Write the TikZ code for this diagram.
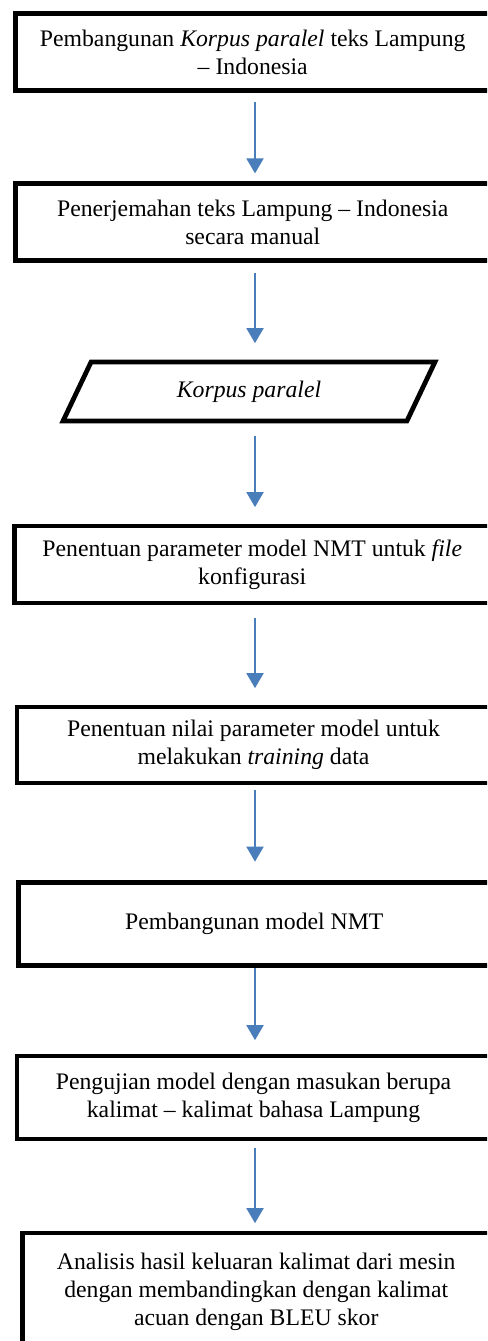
\documentclass[tikz,border=0pt]{standalone}
\usepackage{fontspec}
\setmainfont{Liberation Serif}
\usetikzlibrary{arrows.meta,shapes.geometric}

\definecolor{biruPanah}{RGB}{74,126,187}

\begin{document}
\begin{tikzpicture}[x=0.02cm, y=-0.02cm,
    every node/.style={font=\fontsize{13.5}{16}\selectfont},
    proses/.style={draw, line width=2.7pt, fill=white, align=center, inner sep=0pt},
    data/.style={trapezium, trapezium left angle=37.5, trapezium right angle=142.5,
      trapezium stretches body, draw, line width=2.7pt, minimum width=7.44cm,
      minimum height=1.18cm, inner sep=0pt},
    panah/.style={draw=biruPanah, line width=1.1pt, -{Triangle[length=0.3cm,width=0.34cm]}}]
  % Batas gambar
  \useasboundingbox (0,0) rectangle (487,1341);
  \clip (0,0) rectangle (487,1341);
  \coordinate (sumbu) at (255,0);

  % Kotak proses
  \node[proses, minimum width=9.49cm, minimum height=1.55cm] (bangunKorpus) at (252.75,52)
    {Pembangunan \textit{Korpus paralel} teks Lampung\\ -- Indonesia};
  \node[proses, minimum width=9.49cm, minimum height=1.55cm] (terjemah) at (252.75,222)
    {Penerjemahan teks Lampung -- Indonesia\\ secara manual};

  % Data
  \node[data] (korpus) at (249,391.5) {\textit{Korpus paralel}};

  \node[proses, minimum width=9.51cm, minimum height=1.54cm] (parameter) at (252.25,564.5)
    {Penentuan parameter model NMT untuk \textit{file}\\ konfigurasi};
  \node[proses, minimum width=9.46cm, minimum height=1.52cm] (nilai) at (253.5,745)
    {Penentuan nilai parameter model untuk\\ melakukan \textit{training} data};
  \node[proses, minimum width=9.43cm, minimum height=1.66cm] (model) at (254.25,924)
    {Pembangunan model NMT};
  \node[proses, minimum width=9.46cm, minimum height=1.66cm] (uji) at (253.5,1097.5)
    {Pengujian model dengan masukan berupa\\ kalimat -- kalimat bahasa Lampung};
  \node[proses, minimum width=9.35cm, minimum height=2.36cm] (analisis) at (256.25,1292)
    {Analisis hasil keluaran kalimat dari mesin\\ dengan membandingkan dengan kalimat\\ acuan dengan BLEU skor};

  % Panah alur
  \draw[panah, shorten <=0.18cm, shorten >=0.15cm] (bangunKorpus.south -| sumbu) -- (terjemah.north -| sumbu);
  \draw[panah, shorten <=0.2cm, shorten >=0.33cm] (terjemah.south -| sumbu) -- (korpus.north -| sumbu);
  \draw[panah, shorten <=0.25cm, shorten >=0.33cm] (korpus.south -| sumbu) -- (parameter.north -| sumbu);
  \draw[panah, shorten <=0.25cm, shorten >=0.33cm] (parameter.south -| sumbu) -- (nilai.north -| sumbu);
  \draw[panah, shorten <=0.09cm, shorten >=0.37cm] (nilai.south -| sumbu) -- (model.north -| sumbu);
  \draw[panah, shorten >=0.27cm] (model.south -| sumbu) -- (uji.north -| sumbu);
  \draw[panah, shorten <=0.13cm, shorten >=0.15cm] (uji.south -| sumbu) -- (analisis.north -| sumbu);
\end{tikzpicture}
\end{document}
